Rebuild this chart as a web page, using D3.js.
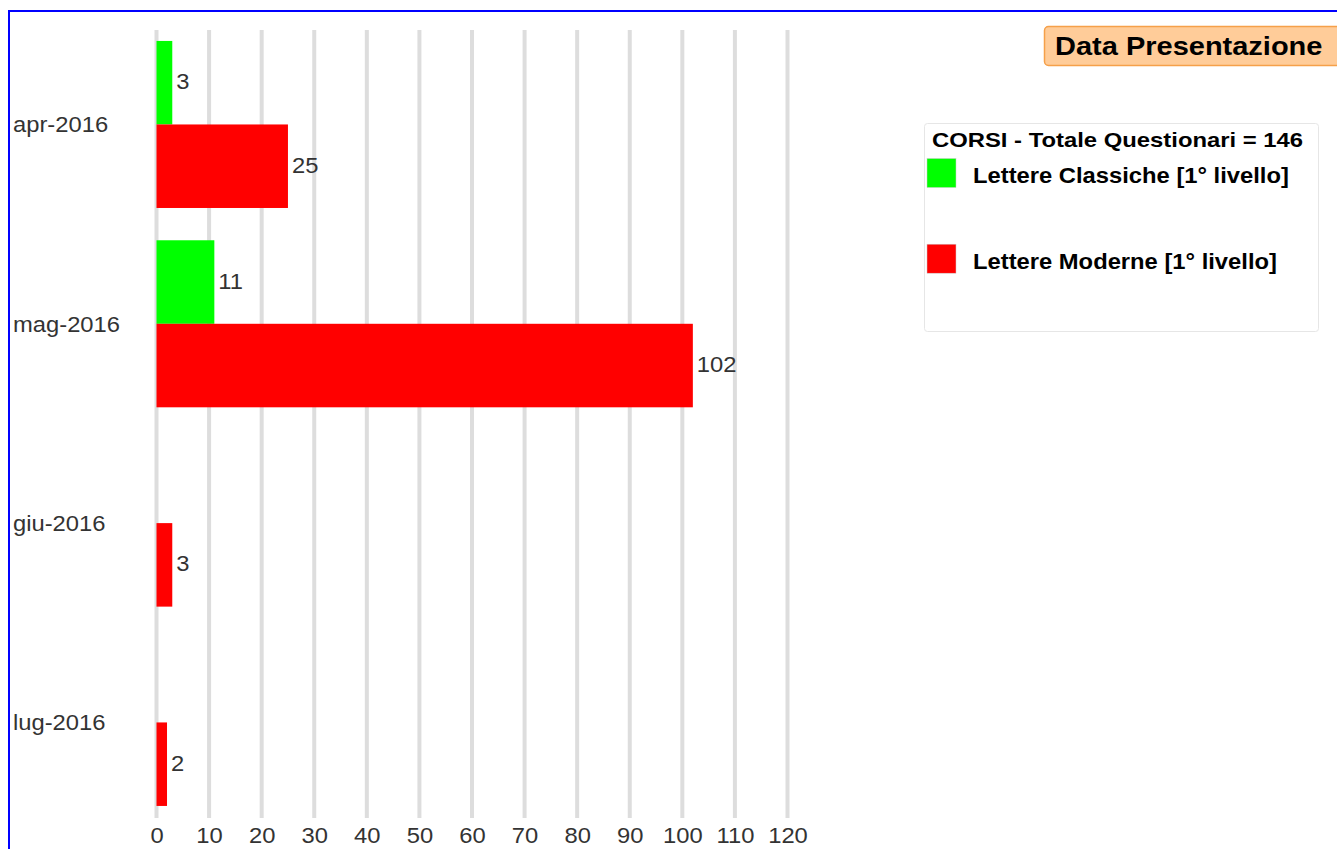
<!DOCTYPE html>
<html>
<head>
<meta charset="utf-8">
<script src="https://cdn.jsdelivr.net/npm/d3@7"></script>
<style>
  body { margin: 0; background: #fff; }
  text { font-family: "Liberation Sans", Arial, sans-serif; }
</style>
</head>
<body>
<div id="chart-container"></div>
<script>
// Data
const months = ["apr-2016", "mag-2016", "giu-2016", "lug-2016"];
const seriesNames = ["Lettere Classiche [1° livello]", "Lettere Moderne [1° livello]"];
const classiche = [3, 11, null, null];
const moderne = [25, 102, 3, 2];
const xTicks = [0, 10, 20, 30, 40, 50, 60, 70, 80, 90, 100, 110, 120];
const chartTitle = "Data Presentazione";
const legendTitle = "CORSI - Totale Questionari = 146";

const seriesColors = ["#00ff00", "#ff0000"];
const seriesValues = [classiche, moderne];

const width = 1337, height = 849;

// the original text is drawn a bit wider than the local font
function stretch(sel, k) {
  sel.each(function() {
    const len = this.getComputedTextLength();
    d3.select(this)
      .attr("textLength", len * k)
      .attr("lengthAdjust", "spacingAndGlyphs");
  });
}

const svg = d3.select("#chart-container")
  .append("svg")
  .attr("width", width)
  .attr("height", height);

// Outer blue frame
svg.append("rect")
  .attr("x", 9)
  .attr("y", 11)
  .attr("width", 1400)
  .attr("height", 900)
  .attr("fill", "none")
  .attr("stroke", "#0000ff")
  .attr("stroke-width", 2);

const xScale = d3.scaleLinear()
  .domain([0, 120])
  .range([156.5, 787.5]);

const yScale = d3.scaleBand()
  .domain(months)
  .range([24.8, 822.1])
  .paddingInner(0.162)
  .paddingOuter(0.081);

const inner = d3.scaleBand()
  .domain(seriesNames)
  .range([0, yScale.bandwidth()]);

// Gridlines
svg.append("g")
  .selectAll("line")
  .data(xTicks)
  .enter()
  .append("line")
  .attr("x1", d => xScale(d))
  .attr("x2", d => xScale(d))
  .attr("y1", 30)
  .attr("y2", 818)
  .attr("stroke", "#dddddd")
  .attr("stroke-width", 4);

// Bars
const rows = [];
months.forEach((m, i) => {
  seriesNames.forEach((s, j) => {
    const v = seriesValues[j][i];
    if (v !== null) rows.push({ month: m, series: s, value: v, color: seriesColors[j] });
  });
});

const bars = svg.append("g")
  .selectAll("g.bar")
  .data(rows)
  .enter()
  .append("g")
  .attr("class", "bar");

bars.append("rect")
  .attr("x", xScale(0))
  .attr("y", d => yScale(d.month) + inner(d.series))
  .attr("width", d => xScale(d.value) - xScale(0))
  .attr("height", inner.bandwidth())
  .attr("fill", d => d.color);

bars.append("text")
  .attr("x", d => xScale(d.value) + 4)
  .attr("y", d => yScale(d.month) + inner(d.series) + inner.bandwidth() / 2)
  .attr("dy", "0.3em")
  .attr("font-size", "22px")
  .attr("fill", "#333")
  .text(d => d.value)
  .call(stretch, 1.08);

// Category labels
svg.append("g")
  .selectAll("text")
  .data(months)
  .enter()
  .append("text")
  .attr("x", 13)
  .attr("y", d => yScale(d) + yScale.bandwidth() / 2)
  .attr("dy", "0.36em")
  .attr("font-size", "22px")
  .attr("fill", "#333")
  .text(d => d)
  .call(stretch, 1.08);

// X axis
const xAxis = d3.axisBottom(xScale)
  .tickValues(xTicks)
  .tickSize(0)
  .tickPadding(9.4)
  .tickFormat(d3.format("d"));

const gx = svg.append("g")
  .attr("transform", "translate(0,818)")
  .call(xAxis);
gx.select(".domain").remove();
gx.selectAll("text")
  .attr("font-size", "22px")
  .attr("font-family", "Liberation Sans, Arial, sans-serif")
  .attr("fill", "#333")
  .call(stretch, 1.08);

// Title box
svg.append("rect")
  .attr("x", 1044.5)
  .attr("y", 26.5)
  .attr("width", 310)
  .attr("height", 39)
  .attr("rx", 4)
  .attr("fill", "#ffcc99")
  .attr("stroke", "#f5a04a")
  .attr("stroke-width", 1.5);

svg.append("text")
  .attr("x", 1055)
  .attr("y", 55)
  .attr("font-size", "26px")
  .attr("font-weight", "bold")
  .attr("fill", "#000")
  .text(chartTitle)
  .call(stretch, 1.115);

// Legend
const legend = svg.append("g");
legend.append("rect")
  .attr("x", 924.5)
  .attr("y", 123.5)
  .attr("width", 394)
  .attr("height", 208)
  .attr("rx", 3)
  .attr("fill", "#fff")
  .attr("stroke", "#e6e6e6");

legend.append("text")
  .attr("x", 932)
  .attr("y", 147)
  .attr("font-size", "21px")
  .attr("font-weight", "bold")
  .attr("fill", "#000")
  .text(legendTitle)
  .call(stretch, 1.135);

const items = legend.selectAll("g.item")
  .data(seriesNames)
  .enter()
  .append("g")
  .attr("class", "item")
  .attr("transform", (d, i) => `translate(0,${i * 85.7})`);

items.append("rect")
  .attr("x", 927)
  .attr("y", 158.5)
  .attr("width", 29)
  .attr("height", 29)
  .attr("fill", (d, i) => seriesColors[i])
  .attr("stroke", "#cccccc")
  .attr("stroke-width", 0.5);

items.append("text")
  .attr("x", 973)
  .attr("y", 183)
  .attr("font-size", "22px")
  .attr("font-weight", "bold")
  .attr("fill", "#000")
  .text(d => d)
  .call(stretch, 1.08);
</script>
</body>
</html>
